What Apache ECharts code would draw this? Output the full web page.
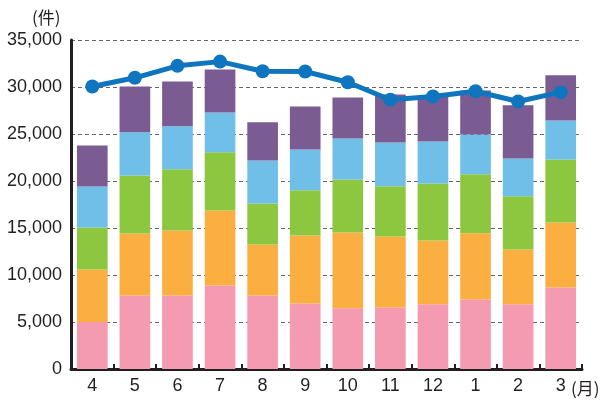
<!DOCTYPE html>
<html><head><meta charset="utf-8">
<script src="https://cdn.jsdelivr.net/npm/echarts@6/dist/echarts.min.js"></script>
<style>html,body{margin:0;padding:0;background:#fff}#c{width:602px;height:401px}</style>
</head><body><div id="c"></div>
<script>
const months = ['4','5','6','7','8','9','10','11','12','1','2','3'];
const pink   = [5000, 7820, 7820, 8880, 7820, 6970, 6470, 6540, 6900, 7390, 6900, 8670];
const orange = [5580, 6590, 6910, 7980, 5420, 7230, 8050, 7560, 6770, 7060, 5810, 6910];
const green  = [4470, 6170, 6520, 6200, 4360, 4820, 5640, 5350, 6060, 6270, 5670, 6710];
const blue   = [4360, 4610, 4580, 4230, 4580, 4330, 4360, 4650, 4470, 4230, 4010, 4150];
const purple = [4360, 4860, 4760, 4580, 4080, 4580, 4360, 5100, 4800, 4680, 5680, 4820];
const total  = [30050, 30980, 32250, 32700, 31680, 31650, 30510, 28640, 28990, 29550, 28460, 29450];
const yTicks = [0, 5000, 10000, 15000, 20000, 25000, 30000, 35000];

const dark = '#231f20';
const font = '"Liberation Sans", Arial, sans-serif';
function barSeries(name, data, color) {
  return { name, type: 'bar', stack: 'all', data, barWidth: '72%',
    itemStyle: { color }, emphasis: { disabled: true }, z: 2 };
}
const chart = echarts.init(document.getElementById('c'), null, { renderer: 'canvas' });
chart.setOption({
  animation: false,
  grid: { left: 71, right: 20, top: 40, bottom: 32, containLabel: false },
  xAxis: {
    type: 'category', data: months, boundaryGap: true,
    axisLine: { show: true, lineStyle: { color: dark, width: 3 } },
    axisTick: { show: true, inside: true, length: 5, lineStyle: { color: dark, width: 2 } },
    axisLabel: { color: dark, fontSize: 18, fontFamily: font, margin: 8 },
    splitLine: { show: false }
  },
  yAxis: {
    type: 'value', min: 0, max: 35000, interval: 5000,
    axisLine: { show: true, lineStyle: { color: dark, width: 3 } },
    axisTick: { show: false },
    axisLabel: { color: dark, fontSize: 18, fontFamily: font, margin: 9,
      formatter: v => yTicks.includes(v) ? v.toLocaleString('en-US') : '' },
    splitLine: { show: true, lineStyle: { color: '#666', width: 1, type: [4, 3] } }
  },
  series: [
    barSeries('a', pink, '#f49ab1'),
    barSeries('b', orange, '#fbaf41'),
    barSeries('c', green, '#8dc63f'),
    barSeries('d', blue, '#6fbfe9'),
    barSeries('e', purple, '#7a5c93'),
    { name: 'total', type: 'line', data: total, z: 5,
      symbol: 'circle', symbolSize: 14,
      lineStyle: { color: '#0f75bf', width: 5 },
      itemStyle: { color: '#0f75bf' }, emphasis: { disabled: true } }
  ],
  graphic: [
    { type: 'text', left: 32, top: 9, style: { text: '(件)', fill: dark, font: '17px "Noto Sans CJK JP", sans-serif' } },
    { type: 'text', left: 571, top: 380, style: { text: '(月)', fill: dark, font: '17px "Noto Sans CJK JP", sans-serif' } }
  ]
});
</script></body></html>
